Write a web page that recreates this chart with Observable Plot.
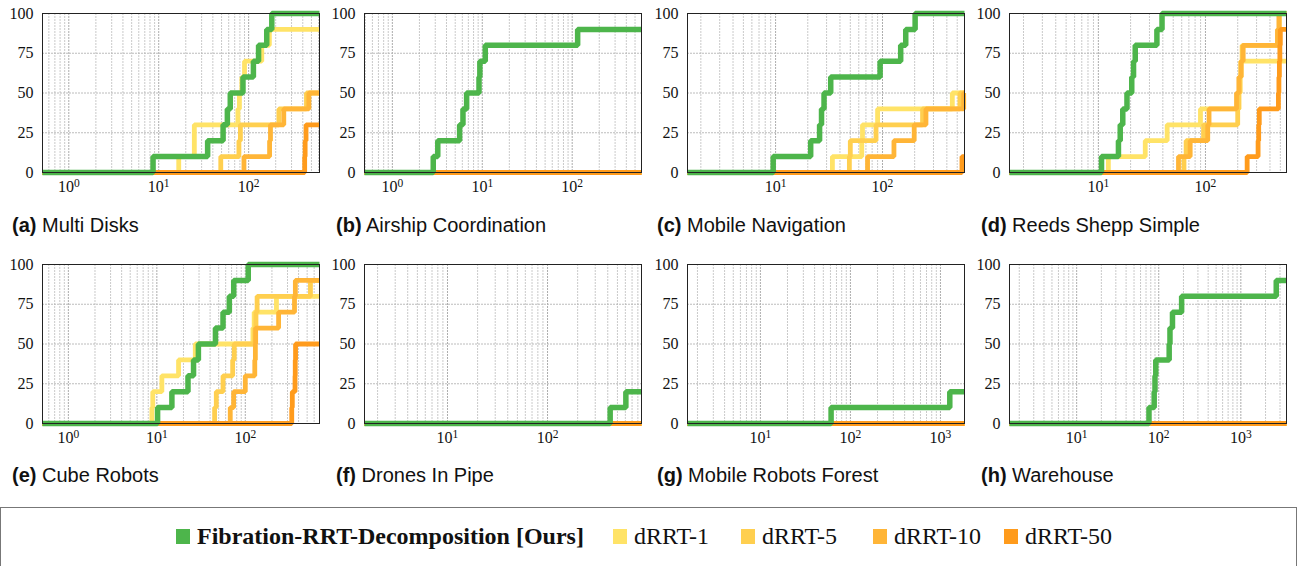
<!DOCTYPE html>
<html>
<head>
<meta charset="utf-8">
<script src="https://cdn.jsdelivr.net/npm/d3@7"></script>
<script src="https://cdn.jsdelivr.net/npm/@observablehq/plot@0.6"></script>
<style>
  html, body { margin: 0; padding: 0; background: #fff; }
  body { width: 1299px; height: 566px; position: relative; overflow: hidden; font-family: "Liberation Sans", Arial, sans-serif; }
  .panel { position: absolute; }
  .panel svg { display: block; max-width: none; }
  .cap { position: absolute; font-size: 20px; line-height: 20px; color: #111; white-space: nowrap; }
  .cap b { font-weight: bold; }
  #legend { position: absolute; left: 0; top: 507px; width: 1297px; height: 80px; border: 1px solid #777; box-sizing: border-box; }
  .sw { position: absolute; width: 14px; height: 15px; }
  .lt { position: absolute; font-family: "Liberation Serif", "Times New Roman", serif; font-size: 24px; line-height: 24px; color: #111; white-space: nowrap; }
</style>
</head>
<body>
<div id="root"></div>
<script>
// ---------------- data ----------------
const panelLetters = ["a", "b", "c", "d", "e", "f", "g", "h"];
const panelTitles = ["Multi Disks", "Airship Coordination", "Mobile Navigation", "Reeds Shepp Simple",
                     "Cube Robots", "Drones In Pipe", "Mobile Robots Forest", "Warehouse"];
const panelXDomains = [[0.51, 614], [0.49, 590], [1.5, 585], [1.48, 571],
                       [0.51, 690], [1.48, 870], [1.55, 1850], [1.52, 3600]];
const seriesNames = ["Fibration-RRT-Decomposition [Ours]", "dRRT-1", "dRRT-5", "dRRT-10", "dRRT-50"];
const yTicks = [0, 25, 50, 75, 100];

// step points [time, % solved] per series, order: Fibration, dRRT-1, dRRT-5, dRRT-10, dRRT-50
const multiDisksSteps = [
  [[8.65,10],[35,20],[52,30],[58,40],[62.5,50],[86.5,60],[113,70],[129,80],[159,90],[181,100]],
  [[16.7,10],[24.9,30],[76,40],[79,50],[84,60],[90,70],[140,80],[170,90]],
  [[49,10],[78,20],[81,30],[217,40],[440,50]],
  [[88.7,10],[171,20],[175,30],[246,40],[468,50]],
  [[420,10],[425,20],[435,30]]
];
const airshipSteps = [
  [[2.85,10],[3.2,20],[5.6,30],[6.1,40],[6.7,50],[9.2,60],[9.4,70],[10.8,80],[115,90]],
  [], [], [], []
];
const mobileNavSteps = [
  [[9.5,10],[21.3,20],[25.8,30],[26.9,40],[28.4,50],[32.8,60],[95,70],[148,80],[165,90],[202,100]],
  [[34,10],[64,20],[65,30],[90,40],[450,50]],
  [[49,10],[50,20],[87,30],[237,40],[530,50]],
  [[72.5,10],[128,20],[198,30],[255,40],[575,50]],
  [[554,10]]
];
const reedsSheppSteps = [
  [[10.7,10],[15.4,20],[16,30],[16.9,40],[18.5,50],[20.5,60],[21.3,70],[22.1,80],[35.2,90],[39.3,100]],
  [[12.4,10],[27.4,20],[43.9,30],[89.8,40],[205,50],[210,60],[214,70]],
  [[63,10],[66,20],[96,30],[200,40],[205,50],[210,60],[215,70],[220,80],[480,90],[490,100]],
  [[56,10],[72,20],[105,30],[108,40],[195,50],[205,60],[215,70],[225,80],[470,90],[485,100]],
  [[245,10],[310,20],[314,30],[318,40],[480,50],[485,60],[490,70],[495,80],[500,90]]
];
const cubeRobotsSteps = [
  [[10.2,10],[14.8,20],[22.5,30],[26,40],[29.5,50],[46,60],[56,70],[66,80],[74,90],[108,100]],
  [[8.8,10],[9,20],[11.4,30],[17.6,40],[27.2,50],[122,60],[126,70],[225,80]],
  [[45,10],[47,20],[56,30],[72,40],[75,50],[128,60],[132,70],[136,80],[545,90]],
  [[67.6,10],[73.8,20],[100,30],[128,40],[130,50],[131,60],[238,70],[360,80],[368,90]],
  [[335,10],[340,20],[365,30],[367,40],[370,50]]
];
const dronesPipeSteps = [
  [[423,10],[607,20]],
  [], [], [], []
];
const robotsForestSteps = [
  [[61,10],[1270,20]],
  [], [], [], []
];
const warehouseSteps = [
  [[76,10],[88,20],[90,30],[92,40],[134,50],[137,60],[147,70],[190,80],[2700,90]],
  [], [], [], []
];
const panelSteps = [multiDisksSteps, airshipSteps, mobileNavSteps, reedsSheppSteps,
                    cubeRobotsSteps, dronesPipeSteps, robotsForestSteps, warehouseSteps];

// ---------------- styles ----------------
const seriesColors = ["#4db54b", "#ffe367", "#ffcf4f", "#ffb537", "#ff9b1c"];
const seriesWidths = [5.5, 4.8, 4.8, 4.8, 4.8];
const drawOrder = [1, 2, 3, 4, 0];

const root = document.getElementById("root");
const plotLefts = [42, 364, 687, 1009];
const plotTops = [13, 264];
const captionBaselines = [231.5, 481.5];
const captionLefts = [12, 336, 657, 981];
const svgNS = "http://www.w3.org/2000/svg";

panelTitles.forEach((title, i) => {
  const col = i % 4, row = Math.floor(i / 4);
  const domain = panelXDomains[i];
  const steps = panelSteps[i];
  const k0 = Math.floor(Math.log10(domain[0])), k1 = Math.ceil(Math.log10(domain[1]));
  const decades = [], minors = [];
  for (let k = k0; k <= k1; k++) {
    for (let m = 1; m <= 9; m++) {
      const v = m * Math.pow(10, k);
      if (v < domain[0] || v > domain[1]) continue;
      if (m === 1) decades.push(v); else minors.push(v);
    }
  }
  const lineMarks = drawOrder.map(s => {
    const pts = [[domain[0], 0], ...steps[s]];
    const last = pts[pts.length - 1][1];
    pts.push([domain[1], last]);
    const rows = pts.map(([t, v]) => ({t, v}));
    return Plot.line(rows, {x: "t", y: "v", curve: "step-after", stroke: seriesColors[s],
                            strokeWidth: seriesWidths[s], strokeLinejoin: "miter", strokeLinecap: "butt"});
  });
  const chart = Plot.plot({
    width: 323, height: 203,
    marginLeft: 42, marginRight: 4, marginTop: 13, marginBottom: 31,
    style: {fontFamily: '"Liberation Serif", "Times New Roman", serif', fontSize: "16px", background: "transparent", color: "#111", overflow: "visible"},
    x: {type: "log", domain, ticks: decades, tickSize: 0, tickPadding: 8, label: null,
        tickFormat: d => "10^" + Math.round(Math.log10(d))},
    y: {domain: [0, 100], ticks: yTicks, tickSize: 0, tickPadding: 9, label: null},
    marks: [
      Plot.ruleX(minors, {stroke: "#c4c4c4", strokeWidth: 0.9, strokeDasharray: "2,1"}),
      Plot.ruleX(decades, {stroke: "#a4a4a4", strokeWidth: 0.9, strokeDasharray: "2,1"}),
      Plot.ruleY([25, 50, 75], {stroke: "#b4b4b4", strokeWidth: 0.9, strokeDasharray: "2,1"}),
      ...lineMarks,
      Plot.frame({stroke: "#222", strokeWidth: 1})
    ]
  });
  chart.querySelectorAll("text").forEach(t => {
    const m = /^10\^(-?\d+)$/.exec(t.textContent.trim());
    if (m) {
      t.textContent = "10";
      const ts = document.createElementNS(svgNS, "tspan");
      ts.setAttribute("dy", "-0.45em");
      ts.setAttribute("font-size", "0.72em");
      ts.textContent = m[1];
      t.appendChild(ts);
    }
  });
  const wrap = document.createElement("div");
  wrap.className = "panel";
  wrap.style.left = (plotLefts[col] - 42) + "px";
  wrap.style.top = (plotTops[row] - 13) + "px";
  wrap.appendChild(chart);
  root.appendChild(wrap);

  const cap = document.createElement("div");
  cap.className = "cap";
  cap.style.left = captionLefts[col] + "px";
  cap.style.top = (captionBaselines[row] - 16.9) + "px";
  const b = document.createElement("b");
  b.textContent = "(" + panelLetters[i] + ")";
  cap.appendChild(b);
  cap.appendChild(document.createTextNode(" " + title));
  root.appendChild(cap);
});

// legend
const legend = document.createElement("div");
legend.id = "legend";
root.appendChild(legend);
const legendX = [175, 612, 740, 872, 1003];
seriesNames.forEach((name, s) => {
  const sw = document.createElement("div");
  sw.className = "sw";
  sw.style.background = seriesColors[s];
  sw.style.left = legendX[s] + "px";
  sw.style.top = (528 - 507) + "px";
  legend.appendChild(sw);
  const lt = document.createElement("div");
  lt.className = "lt";
  lt.textContent = name;
  lt.style.left = (legendX[s] + 21) + "px";
  lt.style.top = (523 - 507) + "px";
  if (s === 0) lt.style.fontWeight = "bold";
  legend.appendChild(lt);
});
</script>
</body>
</html>
